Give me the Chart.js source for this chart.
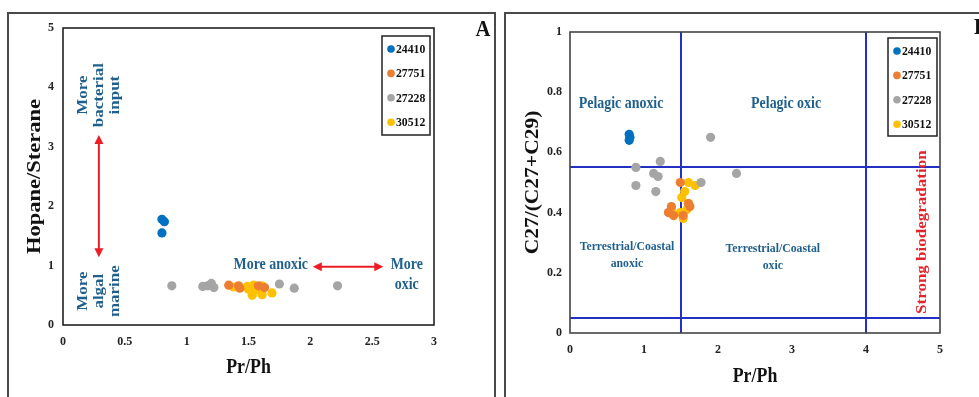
<!DOCTYPE html>
<html>
<head>
<meta charset="utf-8">
<script src="https://cdn.jsdelivr.net/npm/chart.js@4.4.1/dist/chart.umd.min.js"></script>
<style>
  html, body { margin: 0; padding: 0; background: #fff; }
  body { width: 979px; height: 397px; position: relative; overflow: hidden; }
  .frame { position: absolute; border: 2px solid #4a4a4a; box-sizing: border-box; }
  canvas { position: absolute; left: 0; top: 0; }
</style>
</head>
<body>
<div class="frame" style="left:7px;top:12px;width:489px;height:420px"></div>
<div class="frame" style="left:504px;top:12px;width:520px;height:420px"></div>
<canvas id="chartA" width="979" height="397"></canvas>
<canvas id="chartB" width="979" height="397"></canvas>
<script>
// ---- Sample wells ----
const samples = ['24410', '27751', '27228', '30512'];

// ---- Panel A: Pr/Ph vs Hopane/Sterane ----
const prphA_24410 = [0.80, 0.82, 0.80];
const hopSterA_24410 = [1.78, 1.74, 1.55];
const prphA_27751 = [1.34, 1.42, 1.43, 1.58, 1.63];
const hopSterA_27751 = [0.67, 0.66, 0.62, 0.66, 0.63];
const prphA_27228 = [0.88, 1.13, 1.17, 1.20, 1.22, 1.75, 1.87, 2.22];
const hopSterA_27228 = [0.66, 0.65, 0.66, 0.70, 0.63, 0.69, 0.62, 0.66];
const prphA_30512 = [1.38, 1.49, 1.50, 1.54, 1.57, 1.53, 1.61, 1.61, 1.69];
const hopSterA_30512 = [0.64, 0.65, 0.60, 0.67, 0.59, 0.50, 0.66, 0.51, 0.54];

// ---- Panel B: Pr/Ph vs C27/(C27+C29) ----
const prphB_24410 = [0.80, 0.81, 0.80];
const c27B_24410 = [0.66, 0.65, 0.64];
const prphB_27751 = [1.49, 1.37, 1.33, 1.40, 1.62, 1.53, 1.60];
const c27B_27751 = [0.50, 0.42, 0.40, 0.39, 0.42, 0.39, 0.43];
const prphB_27228 = [0.89, 0.89, 1.22, 1.13, 1.19, 1.16, 1.90, 1.77, 2.25];
const c27B_27228 = [0.55, 0.49, 0.57, 0.53, 0.52, 0.47, 0.65, 0.50, 0.53];
const prphB_30512 = [1.60, 1.69, 1.55, 1.51, 1.60, 1.37, 1.49, 1.53, 1.58];
const c27B_30512 = [0.50, 0.49, 0.47, 0.45, 0.43, 0.41, 0.40, 0.38, 0.41];

// ---- Axis ticks ----
const xTicksA = [0, 0.5, 1, 1.5, 2, 2.5, 3];
const yTicksA = [0, 1, 2, 3, 4, 5];
const xTicksB = [0, 1, 2, 3, 4, 5];
const yTicksB = [0, 0.2, 0.4, 0.6, 0.8, 1];

// ---- Environment boundaries in panel B ----
const prphBoundaries = [1.5, 4];
const c27Boundaries = [0.55, 0.05];

const sampleColors = ['#0070C0', '#ED7D31', '#A5A5A5', '#FFC000'];
const FONT = '"Liberation Serif", "Times New Roman", serif';
const NOTE_BLUE = '#1F5F8E';
const ARROW_RED = '#EE1C24';
const SQUASH = 0.87;

function toPoints(xs, ys) { return xs.map((x, i) => ({ x: x, y: ys[i] })); }

function makeDatasets(series) {
  return series.map((s, i) => ({
    label: samples[i],
    data: toPoints(s[0], s[1]),
    backgroundColor: sampleColors[i],
    borderColor: sampleColors[i],
    borderWidth: 0,
    pointRadius: 4.6,
    pointHoverRadius: 4.6
  }));
}

function drawText(ctx, text, x, y, o) {
  const size = o.size || 16;
  const lines = Array.isArray(text) ? text : [text];
  const lh = o.lh || size * 1.2;
  ctx.save();
  ctx.translate(x, y);
  ctx.scale(o.sx == null ? SQUASH : o.sx, 1);
  ctx.rotate(o.rot || 0);
  ctx.font = 'bold ' + size + 'px ' + FONT;
  ctx.fillStyle = o.color || NOTE_BLUE;
  ctx.textAlign = o.align || 'center';
  ctx.textBaseline = 'middle';
  lines.forEach((line, i) => ctx.fillText(line, 0, (i - (lines.length - 1) / 2) * lh));
  ctx.restore();
}

function arrowHead(ctx, x, y, ang) {
  const hl = 9, hw = 4.5;
  ctx.beginPath();
  ctx.moveTo(x, y);
  ctx.lineTo(x - hl * Math.cos(ang) + hw * Math.sin(ang), y - hl * Math.sin(ang) - hw * Math.cos(ang));
  ctx.lineTo(x - hl * Math.cos(ang) - hw * Math.sin(ang), y - hl * Math.sin(ang) + hw * Math.cos(ang));
  ctx.closePath();
  ctx.fill();
}

function doubleArrow(ctx, x1, y1, x2, y2) {
  const ang = Math.atan2(y2 - y1, x2 - x1);
  ctx.save();
  ctx.strokeStyle = ARROW_RED;
  ctx.fillStyle = ARROW_RED;
  ctx.lineWidth = 2;
  ctx.beginPath();
  ctx.moveTo(x1 + 6 * Math.cos(ang), y1 + 6 * Math.sin(ang));
  ctx.lineTo(x2 - 6 * Math.cos(ang), y2 - 6 * Math.sin(ang));
  ctx.stroke();
  arrowHead(ctx, x2, y2, ang);
  arrowHead(ctx, x1, y1, ang + Math.PI);
  ctx.restore();
}

// Draws the plot frame, boundary lines, notes, arrows, titles and the legend box.
const decorPlugin = {
  id: 'decor',
  beforeDatasetsDraw(chart, args, opts) {
    const ctx = chart.ctx, xs = chart.scales.x, ys = chart.scales.y, a = chart.chartArea;
    ctx.save();
    ctx.strokeStyle = '#2330C4';
    ctx.lineWidth = 2;
    (opts.vLines || []).forEach(v => {
      const px = Math.round(xs.getPixelForValue(v));
      ctx.beginPath(); ctx.moveTo(px, a.top); ctx.lineTo(px, a.bottom); ctx.stroke();
    });
    (opts.hLines || []).forEach(v => {
      const py = Math.round(ys.getPixelForValue(v));
      ctx.beginPath(); ctx.moveTo(a.left, py); ctx.lineTo(a.right, py); ctx.stroke();
    });
    ctx.restore();
    (opts.notes || []).forEach(n => {
      drawText(ctx, n.text, xs.getPixelForValue(n.x), ys.getPixelForValue(n.y), n);
    });
    (opts.arrows || []).forEach(r => {
      doubleArrow(ctx, xs.getPixelForValue(r[0]), ys.getPixelForValue(r[1]),
                       xs.getPixelForValue(r[2]), ys.getPixelForValue(r[3]));
    });
  },
  afterDraw(chart, args, opts) {
    const ctx = chart.ctx, a = chart.chartArea;
    ctx.save();
    ctx.strokeStyle = opts.frameColor || '#333';
    ctx.lineWidth = 1.6;
    ctx.strokeRect(a.left, a.top, a.right - a.left, a.bottom - a.top);
    ctx.restore();

    // axis titles
    drawText(ctx, opts.xTitle, (a.left + a.right) / 2, a.bottom + opts.xTitleGap, { size: 21, color: '#111', sx: 0.85 });
    drawText(ctx, opts.yTitle, a.left - opts.yTitleGap, (a.top + a.bottom) / 2, { size: opts.yTitleSize, color: '#111', rot: -Math.PI / 2, sx: 0.85 });

    // panel letter
    drawText(ctx, opts.letter, opts.letterX, opts.letterY, { size: 23, color: '#111', align: opts.letterAlign || 'center', sx: 0.9 });

    // legend
    const L = opts.legend;
    const bx = a.right - L.right - L.w, by = a.top + L.top;
    ctx.save();
    ctx.fillStyle = '#fff';
    ctx.fillRect(bx, by, L.w, L.h);
    ctx.strokeStyle = '#222';
    ctx.lineWidth = 1.5;
    ctx.strokeRect(bx, by, L.w, L.h);
    chart.data.datasets.forEach((ds, i) => {
      const cy = by + L.first + i * L.step;
      ctx.beginPath();
      ctx.fillStyle = ds.backgroundColor;
      ctx.arc(bx + 9, cy, 3.8, 0, Math.PI * 2);
      ctx.fill();
      drawText(ctx, ds.label, bx + 14, cy + 0.5, { size: 13.5, color: '#111', align: 'left' });
    });
    ctx.restore();
  }
};

const tickFont = { family: FONT, size: 12, weight: 'bold' };

function axis(min, max, ticks, pad, fit, isX) {
  return {
    type: 'linear', min: min, max: max,
    afterBuildTicks(s) { s.ticks = ticks.map(v => ({ value: v })); },
    ticks: {
      font: tickFont, color: '#222', padding: pad,
      callback: v => String(Math.round(v * 100) / 100)
    },
    grid: { display: false, drawTicks: false },
    border: { display: false },
    afterFit(s) { if (isX) s.height = fit; else s.width = fit; }
  };
}

function baseOptions(padding, xAxis, yAxis, decor) {
  return {
    responsive: false,
    animation: false,
    events: [],
    layout: { padding: padding },
    scales: { x: xAxis, y: yAxis },
    plugins: { legend: { display: false }, tooltip: { enabled: false }, decor: decor }
  };
}

new Chart(document.getElementById('chartA'), {
  type: 'scatter',
  data: {
    datasets: makeDatasets([
      [prphA_24410, hopSterA_24410],
      [prphA_27751, hopSterA_27751],
      [prphA_27228, hopSterA_27228],
      [prphA_30512, hopSterA_30512]
    ])
  },
  options: baseOptions(
    { left: 13, right: 545, top: 28, bottom: 12 },
    axis(0, 3, xTicksA, 10, 60, true),
    axis(0, 5, yTicksA, 9, 50, false),
    {
      xTitle: 'Pr/Ph', xTitleGap: 43,
      yTitle: 'Hopane/Sterane', yTitleGap: 28, yTitleSize: 22.5,
      letter: 'A', letterX: 483, letterY: 30,
      frameColor: '#222',
      legend: { right: 4, top: 8, w: 48, h: 99, first: 13, step: 24.4 },
      notes: [
        { text: ['More', 'bacterial', 'input'], x: 0.29, y: 3.87, size: 17, lh: 18.4, rot: -Math.PI / 2 },
        { text: ['More', 'algal', 'marine'], x: 0.29, y: 0.57, size: 17, lh: 18.4, rot: -Math.PI / 2 },
        { text: 'More anoxic', x: 1.68, y: 1.01, size: 16 },
        { text: ['More', 'oxic'], x: 2.78, y: 0.84, size: 16, lh: 20 }
      ],
      arrows: [
        [0.29, 3.2, 0.29, 1.14],
        [2.02, 0.98, 2.59, 0.98]
      ]
    }
  ),
  plugins: [decorPlugin]
});

new Chart(document.getElementById('chartB'), {
  type: 'scatter',
  data: {
    datasets: makeDatasets([
      [prphB_24410, c27B_24410],
      [prphB_27751, c27B_27751],
      [prphB_27228, c27B_27228],
      [prphB_30512, c27B_30512]
    ])
  },
  options: baseOptions(
    { left: 520, right: 39, top: 32, bottom: 12 },
    axis(0, 5, xTicksB, 10, 52, true),
    axis(0, 1, yTicksB, 8, 50, false),
    {
      xTitle: 'Pr/Ph', xTitleGap: 44,
      yTitle: 'C27/(C27+C29)', yTitleGap: 37, yTitleSize: 21.5,
      letter: 'B', letterX: 974, letterY: 28, letterAlign: 'left',
      frameColor: '#444',
      vLines: prphBoundaries, hLines: c27Boundaries,
      legend: { right: 3, top: 6, w: 49, h: 98, first: 13, step: 24.4 },
      notes: [
        { text: 'Pelagic anoxic', x: 0.69, y: 0.76, size: 16 },
        { text: 'Pelagic oxic', x: 2.92, y: 0.76, size: 16 },
        { text: ['Terrestrial/Coastal', 'anoxic'], x: 0.77, y: 0.26, size: 13.5, lh: 17 },
        { text: ['Terrestrial/Coastal', 'oxic'], x: 2.74, y: 0.254, size: 13.5, lh: 17 },
        { text: 'Strong biodegradation', x: 4.76, y: 0.335, size: 17, rot: -Math.PI / 2, color: '#E3242B' }
      ]
    }
  ),
  plugins: [decorPlugin]
});
</script>
</body>
</html>
